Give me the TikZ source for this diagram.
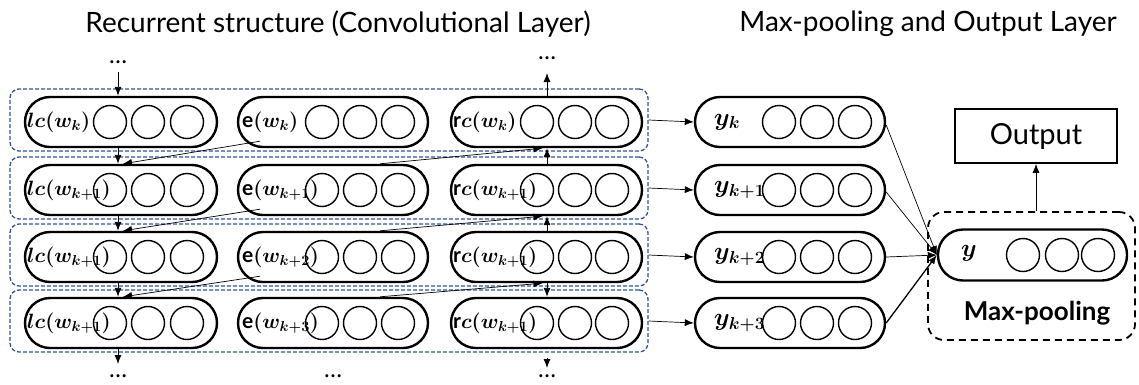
\documentclass[tikz,border=0pt]{standalone}
\usepackage{fontspec}
\newfontfamily\lato{Lato}
\usetikzlibrary{arrows.meta,calc}
\definecolor{dblue}{RGB}{47,85,151}
\begin{document}
\begin{tikzpicture}[x=1pt,y=-1pt,
  stad/.style={draw, line width=2.4pt, rounded corners=25pt, minimum height=50pt, inner sep=0pt},
  circ/.style={draw, circle, line width=1.4pt, minimum size=33pt, inner sep=0pt},
  rowbox/.style={draw=dblue, line width=1.3pt, rounded corners=9pt, dash pattern=on 4pt off 2pt, minimum width=638pt, minimum height=62pt, inner sep=0pt},
  conn/.style={line width=0.9pt, -{Latex[length=9pt,width=7pt]}},
  thin/.style={line width=0.7pt, -{Latex[length=9pt,width=7pt]}},
  lbl/.style={anchor=west, inner sep=0pt, font=\fontsize{21}{24}\selectfont\boldmath},
  ylbl/.style={anchor=west, inner sep=0pt, font=\fontsize{26}{28}\selectfont\boldmath},
  dotsty/.style={inner sep=0pt, font=\lato\fontsize{24}{26}\selectfont},
  title/.style={inner sep=0pt, font=\lato\fontsize{28}{32}\selectfont}
]
\useasboundingbox (0,0) rectangle (1139,384);

\node[title] (t1) at (338,24) {Recurrent structure (Convolutional Layer)};
\node[title] (t2) at (928,24) {Max-pooling and Output Layer};

\foreach \i/\yc/\ls/\es/\rs/\ys in {1/122/k/k/k/k, 2/190/{k+1}/{k+1}/{k+1}/{k+1}, 3/257/{k+1}/{k+2}/{k+1}/{k+2}, 4/323/{k+1}/{k+3}/{k+1}/{k+3}}{
  \node[rowbox] (row\i) at (329,{\yc-2}) {};
  \node[stad, minimum width=192pt] (lc\i) at (121,\yc) {};
  \node[stad, minimum width=190pt] (e\i) at (333,\yc) {};
  \node[stad, minimum width=191pt] (rc\i) at (546.5,\yc) {};
  \node[stad, minimum width=190pt] (y\i) at (790,\yc) {};
  \foreach \cx in {110,148,187}{\node[circ] (clc\i-\cx) at (\cx,\yc) {};}
  \foreach \cx in {322,360,398}{\node[circ] (ce\i-\cx) at (\cx,\yc) {};}
  \foreach \cx in {537,575,612}{\node[circ] (crc\i-\cx) at (\cx,\yc) {};}
  \foreach \cx in {779,817,855}{\node[circ] (cy\i-\cx) at (\cx,\yc) {};}
  \node[lbl] (llc\i) at (27,\yc) {$lc(w_{\ls})$};
  \node[lbl] (le\i) at (242,\yc) {{\lato\bfseries e}$(w_{\es})$};
  \node[lbl] (lrc\i) at (453,\yc) {{\lato\bfseries r}$c(w_{\rs})$};
  \node[ylbl] (ly\i) at (714,\yc) {$y_{\ys}$};
  \draw[thin] (row\i.east) -- (y\i.west);
}

% Max-pooling and output
\node[draw, line width=1.8pt, dash pattern=on 7pt off 5pt, rounded corners=16pt, minimum width=207pt, minimum height=128pt, inner sep=0pt] (mp) at (1031.5,276) {};
\node[stad, minimum width=189pt, minimum height=51pt] (ym) at (1032.5,255) {};
\foreach \cx in {1023,1062,1098}{\node[circ] (cym-\cx) at (\cx,255) {};}
\node[ylbl, font=\fontsize{31}{33}\selectfont\boldmath] (lym) at (961,253) {$y$};
\node[inner sep=0pt, font=\lato\bfseries\fontsize{26}{30}\selectfont] (mpt) at (1037,313) {Max-pooling};
\node[draw, line width=1.8pt, minimum width=162pt, minimum height=54pt, inner sep=0pt, font=\lato\fontsize{29}{32}\selectfont] (out) at (1036,136) {Output};
\draw[thin] (out.south |- mp.north) -- (out.south);

\draw[thin] ([yshift=-3pt]y1.east) -- (ym.west);
\draw[thin] ([yshift=-2pt]y2.east) -- (ym.west);
\draw[thin] (y3.east) -- (ym.west);
\draw[line width=1.3pt, -{Latex[length=9pt,width=7pt]}] (y4.east) -- (ym.west);

% left column vertical arrows
\node[dotsty] (ld1) at (118,62) {\dots};
\coordinate (ltop) at (118,72);
\draw[conn] (ltop) -- ([xshift=-3pt]lc1.north);
\foreach \i/\j in {1/2,2/3,3/4}{
  \draw[conn] ([xshift=-3pt]lc\i.south) -- ([xshift=-3pt]lc\j.north);
  \draw[thin] ([xshift=-73pt,yshift=7pt]e\i.south) -- ([xshift=2pt]lc\j.north);
  \draw[thin] ([xshift=47pt]e\j.north) -- ([xshift=-4pt]rc\i.south);
}
\coordinate (lbot) at (118,364);
\draw[conn] ([xshift=-3pt]lc4.south) -- (lbot);
\node[dotsty] (ld2) at (118,376) {\dots};
\node[dotsty] (md2) at (333,376) {\dots};

% right column vertical arrows
\coordinate (rtop) at (547,73);
\draw[conn] ([xshift=0.5pt]rc1.north) -- (rtop);
\node[dotsty] (rd1) at (547,58) {\dots};
\draw[conn] ([xshift=0.5pt]rc2.north) -- ([xshift=0.5pt]rc1.south);
\draw[conn] ([xshift=0.5pt]rc3.north) -- ([xshift=0.5pt]rc2.south);
\draw[conn] ([xshift=0.5pt]rc3.south) -- ([xshift=0.5pt]rc4.north);
\coordinate (rb1) at (547,358);
\coordinate (rb2) at (547,368);
\draw[conn] (rb1) -- (rb2);
\node[dotsty] (rd2) at (547,376) {\dots};
\end{tikzpicture}
\end{document}
